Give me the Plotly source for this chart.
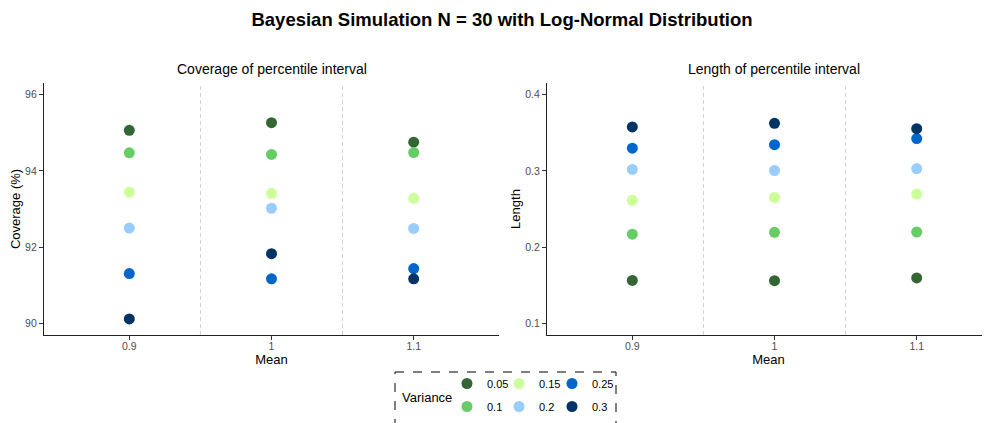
import plotly.graph_objects as go

means = ["0.9", "1", "1.1"]
variances = ["0.05", "0.1", "0.15", "0.2", "0.25", "0.3"]
colors = ["#336633", "#66CC66", "#CCFF99", "#99CCFF", "#0066CC", "#003366"]

# coverage (%) per variance, for means 0.9, 1, 1.1
coverage = {
    "0.05": [95.06, 95.26, 94.75],
    "0.1": [94.47, 94.43, 94.48],
    "0.15": [93.44, 93.41, 93.28],
    "0.2": [92.50, 93.02, 92.49],
    "0.25": [91.31, 91.17, 91.44],
    "0.3": [90.12, 91.83, 91.17],
}
# length per variance, for means 0.9, 1, 1.1
length = {
    "0.05": [0.1565, 0.1561, 0.1598],
    "0.1": [0.2170, 0.2195, 0.2199],
    "0.15": [0.2613, 0.2652, 0.2695],
    "0.2": [0.3018, 0.3004, 0.3030],
    "0.25": [0.3296, 0.3343, 0.3422],
    "0.3": [0.3575, 0.3622, 0.3552],
}

# the page body has an 8px margin: work in page pixels, convert to figure pixels
OFF = 8
W, H = 990 - OFF, 423 - OFF
PLOT_L, PLOT_T, PLOT_B = 44, 83, 335          # page pixels
ML, MR, MT, MB = PLOT_L - OFF, 0, PLOT_T - OFF, H - (PLOT_B - OFF)
PW = W - ML - MR
PH = H - MT - MB
FONT = "Liberation Sans, Arial, Helvetica, sans-serif"


def px_x(p):
    return (p - OFF - ML) / PW


def px_y(p):
    return (H - MB - (p - OFF)) / PH


xpos = [1, 2, 3]
fig = go.Figure()

legend_names = ["legend", "legend2", "legend3", "legend4", "legend5", "legend6"]
# legend symbol centres (page px) in a 3 x 2 grid, column-wise
legend_centres = [(469, 384), (469, 407), (521, 384), (521, 407), (574, 384), (574, 407)]

for i, v in enumerate(variances):
    fig.add_trace(go.Scatter(
        x=xpos, y=coverage[v], mode="markers", name=v,
        marker=dict(color=colors[i], size=11),
        xaxis="x", yaxis="y", legend=legend_names[i], legendgroup=v,
        showlegend=True,
    ))
    fig.add_trace(go.Scatter(
        x=xpos, y=length[v], mode="markers", name=v,
        marker=dict(color=colors[i], size=11),
        xaxis="x2", yaxis="y2", legendgroup=v, showlegend=False,
    ))

axis_common = dict(
    showgrid=False, zeroline=False, showline=True, linecolor="#222222", linewidth=1.2,
    ticks="outside", ticklen=4, tickcolor="#333333", tickwidth=1,
    tickfont=dict(family=FONT, size=10.5, color="#4d4d4d"),
    automargin=False,
)

d_left_end = 455 / PW
d_right_start = (547 - PLOT_L) / PW
axis_title_font = dict(family=FONT, size=13, color="black")
sub_title_font = dict(family=FONT, size=14, color="black")

layout = dict(
    width=W, height=H,
    margin=dict(l=ML, r=MR, t=MT, b=MB, autoexpand=False),
    plot_bgcolor="white", paper_bgcolor="white",
    font=dict(family=FONT, color="black"),
    title=dict(text="<b>Bayesian Simulation N = 30 with Log-Normal Distribution</b>",
               x=(502 - OFF) / W, xanchor="center", xref="container",
               y=1 - (20 - OFF) / H, yanchor="middle", yref="container",
               font=dict(family=FONT, size=18.5, color="black")),
    xaxis=dict(domain=[0, d_left_end], range=[0.4, 3.6], tickvals=xpos, ticktext=means,
               title=dict(text="Mean", font=axis_title_font, standoff=0),
               ticklabelstandoff=-3, anchor="y", **axis_common),
    yaxis=dict(domain=[0, 1], range=[89.7, 96.3], tickvals=[90, 92, 94, 96],
               title=dict(text="Coverage (%)", font=axis_title_font, standoff=1),
               anchor="x", **axis_common),
    xaxis2=dict(domain=[d_right_start, 1], range=[0.4, 3.6 - 12 / 142], tickvals=xpos, ticktext=means,
                title=dict(text="Mean", font=axis_title_font, standoff=0),
                ticklabelstandoff=-3, anchor="y2", **axis_common),
    yaxis2=dict(domain=[0, 1], range=[0.085, 0.415], tickvals=[0.1, 0.2, 0.3, 0.4],
                ticktext=["0.1", "0.2", "0.3", "0.4"],
                title=dict(text="Length", font=axis_title_font, standoff=1),
                anchor="x2", **axis_common),
)

for name, (cx, cy) in zip(legend_names, legend_centres):
    layout[name] = dict(
        x=px_x(cx - 22), xanchor="left",
        y=px_y(cy - 15), yanchor="top",
        bgcolor="rgba(0,0,0,0)", borderwidth=0,
        font=dict(family=FONT, size=11, color="black"),
        itemclick=False, itemdoubleclick=False,
    )

fig.update_layout(**layout)

# dashed separators between categories
for xa, ya in [("x", "y domain"), ("x2", "y2 domain")]:
    for xv in [1.5, 2.5]:
        fig.add_shape(type="line", xref=xa, yref=ya, x0=xv, x1=xv, y0=0, y1=1,
                      line=dict(color="#d0d0d0", width=1, dash="4px,3px"), layer="below")

# subplot titles
fig.add_annotation(text="Coverage of percentile interval", x=px_x(271.5), y=px_y(69),
                   xref="paper", yref="paper", showarrow=False, xanchor="center", yanchor="middle",
                   font=sub_title_font)
fig.add_annotation(text="Length of percentile interval", x=px_x(774), y=px_y(69),
                   xref="paper", yref="paper", showarrow=False, xanchor="center", yanchor="middle",
                   font=sub_title_font)

# legend title and dashed box
fig.add_annotation(text="Variance", x=px_x(400), y=px_y(397),
                   xref="paper", yref="paper", showarrow=False, xanchor="left", yanchor="middle",
                   font=axis_title_font)
fig.add_shape(type="rect", xref="paper", yref="paper",
              x0=px_x(395), x1=px_x(616), y0=px_y(372), y1=px_y(440),
              line=dict(color="black", width=1, dash="dash"), fillcolor="rgba(0,0,0,0)")

fig.write_html("out.html")
